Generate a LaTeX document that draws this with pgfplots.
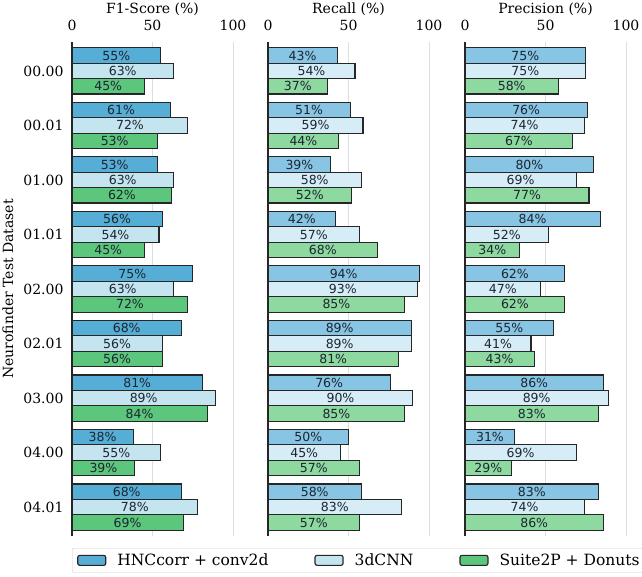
\documentclass[border=0pt]{standalone}
\usepackage{pgfplots}
\pgfplotsset{compat=1.18}
\usepackage{fontspec}
\setmainfont{DejaVu Serif}
\newfontfamily\dvs{DejaVu Sans}
\definecolor{cA}{HTML}{56ADD6}
\definecolor{cB}{HTML}{C4E4F0}
\definecolor{cC}{HTML}{5CC67C}
\definecolor{dA}{HTML}{88C4E4}
\definecolor{dB}{HTML}{D6ECF6}
\definecolor{dC}{HTML}{8ED9A0}
\definecolor{edge}{HTML}{262626}
\definecolor{txt}{HTML}{1B2631}
\pgfplotsset{
  panel/.style={
    scale only axis, width=161pt, height=494pt,
    xmin=0, xmax=100, ymin=-0.53, ymax=8.53, y dir=reverse,
    xbar, bar width=15.4pt, clip=false,
    axis x line*=top, axis y line*=left,
    x axis line style={draw=none},
    y axis line style={draw=edge, line width=1.2pt},
    major tick length=0pt,
    xtick={0,50,100}, ytick={0,...,8},
    xmajorgrids, grid style={draw=black!13, line width=1pt},
    /pgf/number format/assume math mode=true,
    tick label style={font=\fontsize{14}{16}\selectfont},
    xticklabel style={yshift=8pt},
    yticklabel style={xshift=-5pt},
    title style={font=\fontsize{14}{16}\selectfont, yshift=17pt},
    nodes near coords={\pgfmathprintnumber{\pgfplotspointmeta}\%},
    visualization depends on=rawx \as \rawx,
    every node near coord/.append style={font=\dvs\fontsize{12.5}{14}\selectfont, text=txt, anchor=center, xshift={-0.805pt*\rawx}},
    every axis plot/.append style={draw=edge, line width=1.15pt},
  },
  s1/.style={bar shift=15.4pt},
  s2/.style={bar shift=0pt},
  s3/.style={bar shift=-15.4pt},
}
\begin{document}
\begin{tikzpicture}
\useasboundingbox (0,0) rectangle (642pt,-576pt);
% F1
\begin{axis}[panel, at={(72pt,-42pt)}, anchor=north west,
  title={F1-Score (\%)},
  yticklabels={00.00,00.01,01.00,01.01,02.00,02.01,03.00,04.00,04.01},
  ylabel={Neurofinder Test Dataset},
  every axis y label/.style={at={([xshift=-64pt]rel axis cs:0,0.5)}, rotate=90, anchor=center, font=\fontsize{14}{16}\selectfont},
  legend style={at={(rel axis cs:0,0)}, anchor=north west, yshift=-12pt,
    legend columns=3, draw=black!20, rounded corners=2pt, fill=white,
    font=\fontsize{15.5}{17}\selectfont, inner xsep=5pt, inner ysep=3.5pt,
    /tikz/every odd column/.append style={column sep=9pt},
    /tikz/every even column/.append style={column sep=44pt}},
  legend image code/.code={\draw[#1, line width=1.15pt] (0pt,-5pt) rectangle (28pt,5pt);},
]
\addplot[s1, fill=cA] coordinates {(55,0) (61,1) (53,2) (56,3) (75,4) (68,5) (81,6) (38,7) (68,8)};
\addplot[s2, fill=cB] coordinates {(63,0) (72,1) (63,2) (54,3) (63,4) (56,5) (89,6) (55,7) (78,8)};
\addplot[s3, fill=cC] coordinates {(45,0) (53,1) (62,2) (45,3) (72,4) (56,5) (84,6) (39,7) (69,8)};
\legend{HNCcorr + conv2d, 3dCNN, Suite2P + Donuts}
\end{axis}
% Recall
\begin{axis}[panel, at={(268pt,-42pt)}, anchor=north west,
  title={Recall (\%)}, yticklabels={}]
\addplot[s1, fill=dA] coordinates {(43,0) (51,1) (39,2) (42,3) (94,4) (89,5) (76,6) (50,7) (58,8)};
\addplot[s2, fill=dB] coordinates {(54,0) (59,1) (58,2) (57,3) (93,4) (89,5) (90,6) (45,7) (83,8)};
\addplot[s3, fill=dC] coordinates {(37,0) (44,1) (52,2) (68,3) (85,4) (81,5) (85,6) (57,7) (57,8)};
\end{axis}
% Precision
\begin{axis}[panel, at={(465pt,-42pt)}, anchor=north west,
  title={Precision (\%)}, yticklabels={}]
\addplot[s1, fill=dA] coordinates {(75,0) (76,1) (80,2) (84,3) (62,4) (55,5) (86,6) (31,7) (83,8)};
\addplot[s2, fill=dB] coordinates {(75,0) (74,1) (69,2) (52,3) (47,4) (41,5) (89,6) (69,7) (74,8)};
\addplot[s3, fill=dC] coordinates {(58,0) (67,1) (77,2) (34,3) (62,4) (43,5) (83,6) (29,7) (86,8)};
\end{axis}
\end{tikzpicture}
\end{document}
